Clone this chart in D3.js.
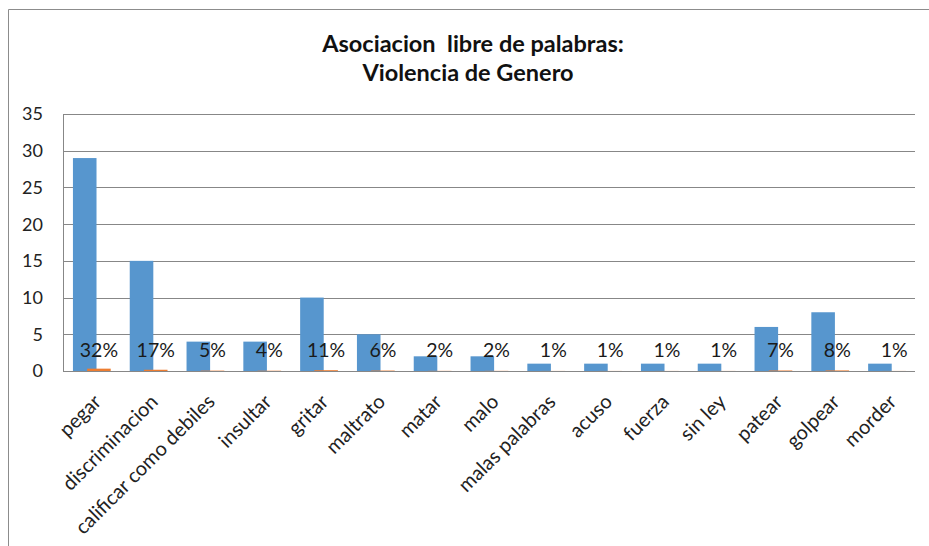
<!DOCTYPE html>
<html>
<head>
<meta charset="utf-8">
<script src="https://cdn.jsdelivr.net/npm/d3@7.9.0/dist/d3.min.js"></script>
<style>
  body { margin: 0; background: #fff; }
  svg { display: block; font-family: Lato, 'Open Sans', sans-serif; }
</style>
</head>
<body>
<svg width="929" height="546"></svg>
<script>
const categories = ['pegar', 'discriminacion', 'calificar como debiles', 'insultar', 'gritar',
  'maltrato', 'matar', 'malo', 'malas palabras', 'acuso', 'fuerza', 'sin ley', 'patear',
  'golpear', 'morder'];
const counts = [29, 15, 4, 4, 10, 5, 2, 2, 1, 1, 1, 1, 6, 8, 1];
const shares = [0.32, 0.17, 0.05, 0.04, 0.11, 0.06, 0.02, 0.02, 0.01, 0.01, 0.01, 0.01, 0.07, 0.08, 0.01];
const yTicks = [0, 5, 10, 15, 20, 25, 30, 35];
const titleLines = ['Asociacion  libre de palabras:', 'Violencia de Genero'];

const svg = d3.select('svg');

// chart frame (only left and top edges are visible in the crop)
svg.append('path')
  .attr('d', 'M8.5,546 V9.5 H929')
  .attr('fill', 'none')
  .attr('stroke', '#8c8c8c');

const plotLeft = 63, plotRight = 915, plotTop = 114, plotBottom = 371;
const x = d3.scaleBand().domain(categories).range([plotLeft, plotRight]);
const y = d3.scaleLinear().domain([0, 35]).range([plotBottom, plotTop]);

// gridlines
svg.append('g')
  .selectAll('line')
  .data(yTicks)
  .join('line')
  .attr('x1', plotLeft)
  .attr('x2', plotRight)
  .attr('y1', (d) => Math.round(y(d)) + 0.5)
  .attr('y2', (d) => Math.round(y(d)) + 0.5)
  .attr('stroke', '#878787');

// vertical axis line
svg.append('line')
  .attr('x1', plotLeft + 0.5).attr('x2', plotLeft + 0.5)
  .attr('y1', plotTop).attr('y2', plotBottom)
  .attr('stroke', '#878787');

// y tick labels
svg.append('g')
  .selectAll('text')
  .data(yTicks)
  .join('text')
  .attr('x', 43)
  .attr('y', (d) => y(d))
  .attr('dy', '0.36em')
  .attr('text-anchor', 'end')
  .attr('font-size', 18)
  .attr('fill', '#222')
  .text((d) => d);

const bw = x.bandwidth();
const barW = bw * 0.415;

// blue series
svg.append('g')
  .selectAll('rect')
  .data(counts)
  .join('rect')
  .attr('x', (d, i) => x(categories[i]) + bw * 0.175)
  .attr('width', barW)
  .attr('y', (d) => y(d))
  .attr('height', (d) => y(0) - y(d))
  .attr('fill', '#5796ce');

// orange series
svg.append('g')
  .selectAll('rect')
  .data(shares)
  .join('rect')
  .attr('x', (d, i) => x(categories[i]) + bw * 0.425)
  .attr('width', barW)
  .attr('y', (d) => y(d))
  .attr('height', (d) => y(0) - y(d))
  .attr('fill', '#ed7d31');

// percentage labels
svg.append('g')
  .selectAll('text')
  .data(shares)
  .join('text')
  .attr('x', (d, i) => x(categories[i]) + bw * 0.425 + barW / 2)
  .attr('y', 357)
  .attr('text-anchor', 'middle')
  .attr('font-size', 19.5)
  .attr('fill', '#1a1a1a')
  .text((d) => Math.round(d * 100) + '%');

// category labels
svg.append('g')
  .selectAll('text')
  .data(categories)
  .join('text')
  .attr('transform', (d) => `translate(${x(d) + bw / 2 + 11},${403}) rotate(-45)`)
  .attr('text-anchor', 'end')
  .attr('font-size', 20)
  .attr('fill', '#222')
  .text((d) => d);

// title
svg.append('g')
  .selectAll('text')
  .data(titleLines)
  .join('text')
  .attr('x', (d, i) => (i === 0 ? 473 : 468))
  .attr('y', (d, i) => 52 + i * 29)
  .attr('text-anchor', 'middle')
  .attr('font-size', 23.5)
  .attr('font-weight', 'bold')
  .attr('fill', '#111')
  .style('white-space', 'pre')
  .text((d) => d);
</script>
</body>
</html>
